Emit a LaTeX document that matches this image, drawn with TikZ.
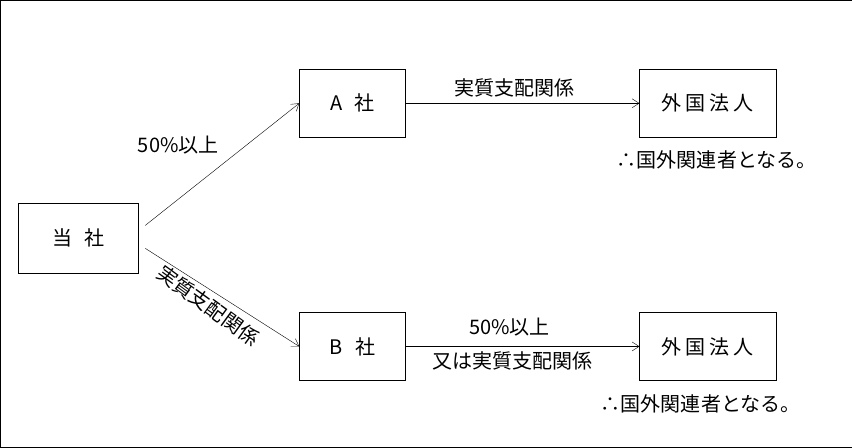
\documentclass[tikz,border=0pt]{standalone}
\usepackage{fontspec}
\setmainfont{Noto Sans CJK JP}
\usetikzlibrary{arrows.meta}
\tikzset{
  box/.style={draw,minimum width=106pt,minimum height=68pt,inner sep=0pt},
  lbl/.style={inner sep=0pt,font=\fontsize{20}{22}\selectfont},
  conn/.style={-{Straight Barb[length=7pt,width=9pt]}}
}
\begin{document}
\begin{tikzpicture}[x=1pt,y=-1pt,font=\fontsize{20}{22}\selectfont]
\draw (0,0) rectangle (851,447);
\node[box,minimum width=120pt,minimum height=70pt] (toh) at (78,238) {当\hspace{0.6em}社};
\node[box] (a) at (352,103) {A\hspace{0.6em}社};
\node[box] (b) at (352,346) {B\hspace{0.6em}社};
\node[box,minimum width=136pt] (fa) at (707,103) {外\hspace{0.2em}国\hspace{0.2em}法\hspace{0.2em}人};
\node[box,minimum width=136pt] (fb) at (707,346) {外\hspace{0.2em}国\hspace{0.2em}法\hspace{0.2em}人};
\coordinate (s1) at (145,225);
\coordinate (s2) at (145,248);
\draw[conn] (s1) -- (a.west);
\draw[conn] (s2) -- (b.west);
\draw[conn] (a.east) -- (fa.west);
\draw[conn] (b.east) -- (fb.west);
% labels
\node[lbl] (l1) at (178,145) {50\%以上};
\node[lbl,rotate=-36] (l2) at (208,305) {実質支配関係};
\node[lbl] (l3) at (514,88) {実質支配関係};
\node[lbl] (l4) at (509,327) {50\%以上};
\node[lbl] (l5) at (512,360) {又は実質支配関係};
\node[lbl] (n1) at (716,160) {∴国外関連者となる。};
\node[lbl] (n2) at (700,403) {∴国外関連者となる。};
\end{tikzpicture}
\end{document}
